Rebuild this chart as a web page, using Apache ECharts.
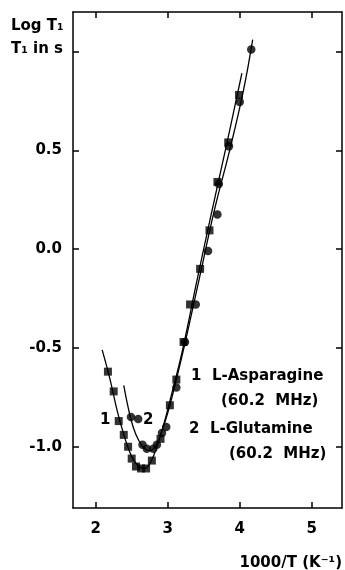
<!DOCTYPE html>
<html>
<head>
<meta charset="utf-8">
<script src="https://cdn.jsdelivr.net/npm/echarts@6/dist/echarts.min.js"></script>
<style>
  html, body { margin: 0; padding: 0; background: #fff; }
  #chart { width: 345px; height: 570px; }
</style>
</head>
<body>
<div id="chart"></div>
<script>
// measured points (1000/T, log T1)
const asparaginePoints = [
  [2.17, -0.62], [2.25, -0.72], [2.32, -0.87], [2.39, -0.94], [2.45, -1.0],
  [2.5, -1.06], [2.56, -1.1], [2.63, -1.11], [2.7, -1.11], [2.78, -1.07],
  [2.9, -0.96], [3.03, -0.79], [3.12, -0.66], [3.22, -0.47], [3.31, -0.28],
  [3.45, -0.1], [3.58, 0.095], [3.69, 0.34], [3.84, 0.54], [3.99, 0.78]
]
const glutaminePoints = [
  [2.49, -0.85], [2.59, -0.86], [2.65, -0.99], [2.71, -1.01], [2.8, -1.01],
  [2.85, -0.99], [2.92, -0.93], [2.98, -0.9], [3.12, -0.7], [3.24, -0.47],
  [3.39, -0.28], [3.56, -0.01], [3.69, 0.175], [3.71, 0.33], [3.85, 0.52],
  [4.0, 0.745], [4.16, 1.01]
]
// fitted curves
const asparagineFit = [
  [2.09, -0.51], [2.2, -0.66], [2.3, -0.82], [2.4, -0.95], [2.5, -1.05],
  [2.6, -1.1], [2.68, -1.11], [2.76, -1.08], [2.85, -1.0], [2.95, -0.88],
  [3.05, -0.74], [3.2, -0.52], [3.4, -0.17], [3.6, 0.17], [3.8, 0.5], [4.03, 0.89]
]
const glutamineFit = [
  [2.39, -0.69], [2.45, -0.8], [2.52, -0.9], [2.6, -0.97], [2.68, -1.01],
  [2.76, -1.02], [2.84, -0.99], [2.92, -0.92], [3.0, -0.83], [3.1, -0.69],
  [3.25, -0.46], [3.45, -0.13], [3.65, 0.2], [3.86, 0.5], [4.05, 0.8], [4.18, 1.06]
]
const xTicks = [2, 3, 4, 5]
const yTicks = [-1.0, -0.5, 0.0, 0.5, 1.0]
const yLabels = [-1.0, -0.5, 0.0, 0.5]

const font = "'DejaVu Sans', sans-serif"
const axisLine = { show: true, onZero: false, lineStyle: { color: "#000", width: 1.5 } }
const tick = (vals) => ({
  show: true, inside: true, length: 6, customValues: vals,
  lineStyle: { color: "#000", width: 1.5 },
})
const txt = (text, pos) => ({
  type: "text", ...pos,
  style: { text, font: "bold 15px " + font, fill: "#000" },
})

const chart = echarts.init(document.getElementById("chart"))
chart.setOption({
  animation: false,
  backgroundColor: "#fff",
  grid: { left: 73, right: 3, top: 12, bottom: 62 },
  xAxis: [
    {
      type: "value", min: 1.685, max: 5.42, position: "bottom",
      axisLine, axisTick: tick(xTicks), splitLine: { show: false },
      axisLabel: {
        customValues: xTicks, margin: 14, color: "#000",
        fontFamily: font, fontWeight: "bold", fontSize: 15,
      },
    },
    {
      type: "value", min: 1.685, max: 5.42, position: "top",
      axisLine, axisTick: tick(xTicks), splitLine: { show: false },
      axisLabel: { show: false },
    },
  ],
  yAxis: [
    {
      type: "value", min: -1.31, max: 1.2, position: "left",
      axisLine, axisTick: tick(yTicks), splitLine: { show: false },
      axisLabel: {
        customValues: yLabels, margin: 11, color: "#000",
        fontFamily: font, fontWeight: "bold", fontSize: 15,
        formatter: (v) => v.toFixed(1),
      },
    },
    {
      type: "value", min: -1.31, max: 1.2, position: "right",
      axisLine, axisTick: tick(yTicks), splitLine: { show: false },
      axisLabel: { show: false },
    },
  ],
  series: [
    {
      name: "fit 1", type: "line", data: asparagineFit, smooth: 0.4,
      showSymbol: false, lineStyle: { color: "#000", width: 1.3 }, z: 2,
    },
    {
      name: "fit 2", type: "line", data: glutamineFit, smooth: 0.4,
      showSymbol: false, lineStyle: { color: "#000", width: 1.3 }, z: 2,
    },
    {
      name: "L-Asparagine", type: "scatter", data: asparaginePoints,
      symbol: "rect", symbolSize: 8, itemStyle: { color: "#000" }, z: 3,
    },
    {
      name: "L-Glutamine", type: "scatter", data: glutaminePoints,
      symbol: "circle", symbolSize: 8.5, itemStyle: { color: "#000" }, z: 3,
    },
  ],
  graphic: [
    txt("Log T₁", { left: 11, top: 19 }),
    txt("T₁ in s", { left: 11, top: 42 }),
    txt("1000/T (K⁻¹)", { right: 3, top: 556 }),
    txt("1  L-Asparagine", { left: 191, top: 369 }),
    txt("(60.2  MHz)", { left: 221, top: 394 }),
    txt("2  L-Glutamine", { left: 189, top: 422 }),
    txt("(60.2  MHz)", { left: 229, top: 447 }),
    txt("1", { left: 100, top: 413 }),
    txt("2", { left: 143, top: 413 }),
  ],
})
</script>
</body>
</html>
